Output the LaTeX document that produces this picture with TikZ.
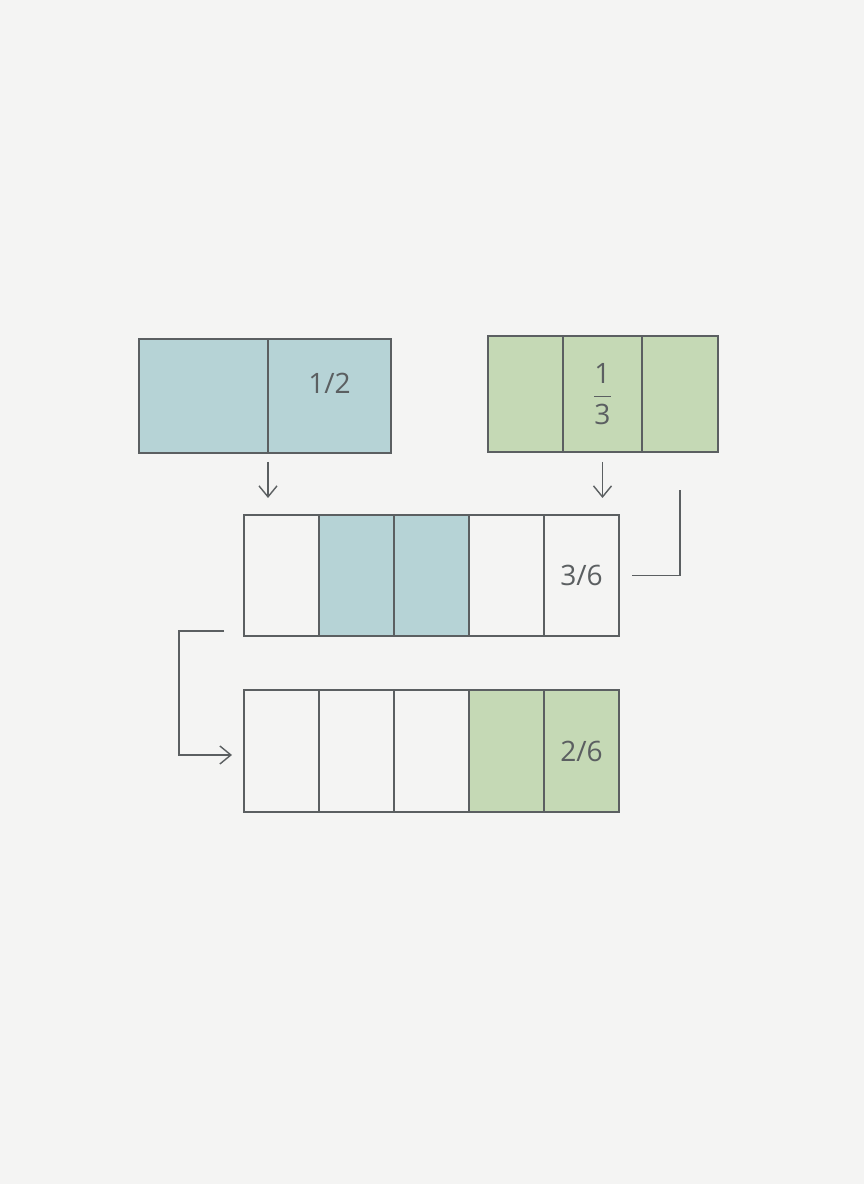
\documentclass[tikz,border=0pt]{standalone}
\usepackage{amsmath}
\usepackage{fontspec}
\setmainfont{Open Sans}
\usetikzlibrary{arrows.meta,positioning}
\definecolor{bg}{HTML}{F4F4F3}
\definecolor{edge}{HTML}{5B5F61}
\definecolor{halfblue}{HTML}{B6D3D6}
\definecolor{thirdgreen}{HTML}{C5D9B5}
\tikzset{
  cell/.style={draw=edge, line width=1pt, inner sep=0pt, outer sep=0pt,
    text=edge, font=\fontsize{16}{19}\selectfont},
  bluecell/.style={cell, fill=halfblue},
  greencell/.style={cell, fill=thirdgreen},
  emptycell/.style={cell, fill=bg},
  wire/.style={draw=edge, line width=0.8pt},
  arr/.style={wire, -{Straight Barb[length=2.2mm,width=3.6mm]}}
}
\begin{document}
\begin{tikzpicture}
	\fill[bg] (0,0) rectangle (17.28,23.68);
	\useasboundingbox (0,0) rectangle (17.28,23.68);
	% Halves:
	\node[bluecell, minimum width=2.58cm, minimum height=2.28cm](H1) at (4.07, 15.76){};
	\node[bluecell, minimum width=2.46cm, minimum height=2.28cm, right=0pt of H1](H2){};
	\node[text=edge, font=\fontsize{16}{19}\selectfont](L1) at ([yshift=0.26cm]H2.center){1/2};
	% Thirds:
	\node[greencell, minimum width=1.5cm, minimum height=2.32cm](T1) at (10.51, 15.80){};
	\node[greencell, minimum width=1.58cm, minimum height=2.32cm, right=0pt of T1](T2){$\displaystyle\frac{\text{1}}{\text{3}}$};
	\node[greencell, minimum width=1.52cm, minimum height=2.32cm, right=0pt of T2](T3){};
	% Sixths, first row:
	\node[emptycell, minimum width=1.5cm, minimum height=2.42cm](A1) at (5.63, 12.17){};
	\node[bluecell, minimum width=1.5cm, minimum height=2.42cm, right=0pt of A1](A2){};
	\node[bluecell, minimum width=1.5cm, minimum height=2.42cm, right=0pt of A2](A3){};
	\node[emptycell, minimum width=1.5cm, minimum height=2.42cm, right=0pt of A3](A4){};
	\node[emptycell, minimum width=1.5cm, minimum height=2.42cm, right=0pt of A4](A5){3/6};
	% Sixths, second row:
	\node[emptycell, minimum width=1.5cm, minimum height=2.44cm](B1) at (5.63, 8.66){};
	\node[emptycell, minimum width=1.5cm, minimum height=2.44cm, right=0pt of B1](B2){};
	\node[emptycell, minimum width=1.5cm, minimum height=2.44cm, right=0pt of B2](B3){};
	\node[greencell, minimum width=1.5cm, minimum height=2.44cm, right=0pt of B3](B4){};
	\node[greencell, minimum width=1.5cm, minimum height=2.44cm, right=0pt of B4](B5){2/6};
	% Connectors:
	\draw[arr] ([yshift=-0.18cm]H1.south east) -- ([yshift=0.34cm]H1.south east |- A1.north);
	\draw[arr] ([yshift=-0.2cm]T2.south) -- ([yshift=0.34cm]T2.south |- A5.north);
	\draw[wire] ([xshift=0.26cm]A5.east) -| ([yshift=-0.76cm]T3.south);
	\draw[arr] ([xshift=-0.4cm, yshift=0.1cm]A1.south west) -- ++(-0.9,0) |- ([xshift=-0.24cm, yshift=-0.08cm]B1.west);
\end{tikzpicture}
\end{document}
